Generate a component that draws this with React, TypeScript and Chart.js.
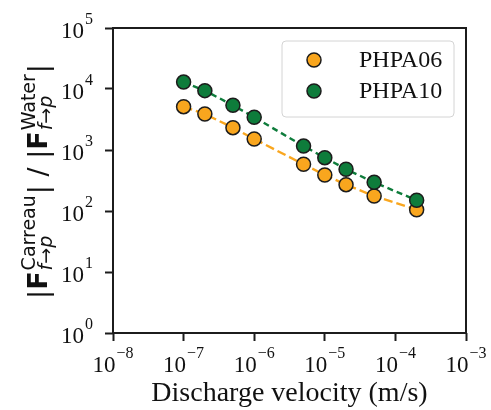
import React, { useEffect, useRef } from 'react';
import { Chart, registerables } from 'chart.js';

Chart.register(...registerables);

// ---- data ----
const velocities = [1e-7, 2e-7, 5e-7, 1e-6, 5e-6, 1e-5, 2e-5, 5e-5, 2e-4];
const phpa06 = [5130, 3890, 2320, 1515, 583, 389, 270, 176, 105];
const phpa10 = [13000, 9400, 5400, 3440, 1160, 748, 483, 295, 150];
const seriesLabels = ['PHPA06', 'PHPA10'];
const xTickValues = [1e-8, 1e-7, 1e-6, 1e-5, 1e-4, 1e-3];
const yTickValues = [1e0, 1e1, 1e2, 1e3, 1e4, 1e5];
const xTitle = 'Discharge velocity (m/s)';
const yTitleNum = 'Carreau';
const yTitleDen = 'Water';
const yTitleSub = ['f', '→', 'p'];

const ORANGE = '#F9A61E';
const GREEN = '#0E7C3B';
const EDGE = '#1c1c1c';
const SERIF = '"Liberation Serif", "Times New Roman", serif';
const SANS = '"DejaVu Sans", sans-serif';

// draws "10" with a raised exponent, as mathtext does
const drawPow = (
  ctx: CanvasRenderingContext2D,
  v: number,
  x: number,
  y: number,
  align: 'center' | 'right'
) => {
  const e = Math.round(Math.log10(v));
  const expStr = e < 0 ? '\u2212' + String(-e) : String(e);
  const fBase = `23px ${SERIF}`;
  const fExp = `16px ${SERIF}`;
  ctx.font = fBase;
  const wb = ctx.measureText('10').width;
  ctx.font = fExp;
  const we = ctx.measureText(expStr).width;
  const total = wb + 1 + we;
  const x0 = align === 'center' ? x - total / 2 : x - total;
  ctx.textAlign = 'left';
  ctx.textBaseline = 'alphabetic';
  ctx.font = fBase;
  ctx.fillText('10', x0, y);
  ctx.font = fExp;
  ctx.fillText(expStr, x0 + wb + 1, y - 14);
};

const tickLabelPlugin = {
  id: 'powTickLabels',
  afterDraw(chart: any) {
    const ctx = chart.ctx as CanvasRenderingContext2D;
    const { left, bottom } = chart.chartArea;
    const xs = chart.scales.x;
    const ys = chart.scales.y;
    ctx.save();
    ctx.fillStyle = '#111';
    xs.ticks.forEach((t: any) => {
      drawPow(ctx, t.value, xs.getPixelForValue(t.value), bottom + 39, 'center');
    });
    ys.ticks.forEach((t: any) => {
      drawPow(ctx, t.value, left - 20, ys.getPixelForValue(t.value) + 10, 'right');
    });
    ctx.restore();
  },
};

const framePlugin = {
  id: 'frameLegendTitle',
  afterDraw(chart: any) {
    const ctx = chart.ctx as CanvasRenderingContext2D;
    const { left, top, right, bottom } = chart.chartArea;
    ctx.save();
    // frame
    ctx.strokeStyle = EDGE;
    ctx.lineWidth = 2;
    ctx.strokeRect(left, top, right - left, bottom - top);

    // legend
    const bx = right - 184, by = top + 13, bw = 172, bh = 76, r = 4;
    ctx.beginPath();
    ctx.moveTo(bx + r, by);
    ctx.arcTo(bx + bw, by, bx + bw, by + bh, r);
    ctx.arcTo(bx + bw, by + bh, bx, by + bh, r);
    ctx.arcTo(bx, by + bh, bx, by, r);
    ctx.arcTo(bx, by, bx + bw, by, r);
    ctx.closePath();
    ctx.fillStyle = 'rgba(255,255,255,0.8)';
    ctx.fill();
    ctx.strokeStyle = '#d4d4d4';
    ctx.lineWidth = 1;
    ctx.stroke();
    chart.data.datasets.forEach((ds: any, i: number) => {
      const cy = by + 19 + i * 31;
      ctx.beginPath();
      ctx.arc(bx + 32, cy, 7, 0, Math.PI * 2);
      ctx.fillStyle = ds.pointBackgroundColor;
      ctx.fill();
      ctx.lineWidth = 1.5;
      ctx.strokeStyle = EDGE;
      ctx.stroke();
      ctx.fillStyle = '#111';
      ctx.font = `24px ${SERIF}`;
      ctx.textBaseline = 'middle';
      ctx.textAlign = 'left';
      ctx.fillText(ds.label, bx + 77, cy + 1);
    });

    // y title (rotated, with super/subscripts)
    const main = 27, scr = 19;
    const fMain = `${main}px ${SANS}`;
    const fBold = `bold ${main}px ${SANS}`;
    const fScr = `${scr}px ${SANS}`;
    const fScrIt = `italic ${scr}px ${SANS}`;
    const fSlash = `${main}px ${SANS}`;
    type Seg = { kind: 'txt'; t: string; f: string } | { kind: 'stack'; sup: string };
    const segs: Seg[] = [
      { kind: 'txt', t: '|', f: fMain },
      { kind: 'txt', t: 'F', f: fBold },
      { kind: 'stack', sup: yTitleNum },
      { kind: 'txt', t: '|', f: fMain },
      { kind: 'txt', t: ' / ', f: fSlash },
      { kind: 'txt', t: '|', f: fMain },
      { kind: 'txt', t: 'F', f: fBold },
      { kind: 'stack', sup: yTitleDen },
      { kind: 'txt', t: '|', f: fMain },
    ];
    const subFonts = [fScrIt, fScr, fScrIt];
    const subWidth = () =>
      yTitleSub.reduce((w, s, i) => {
        ctx.font = subFonts[i];
        return w + ctx.measureText(s).width;
      }, 0);
    const widthOf = (s: Seg) => {
      if (s.kind === 'txt') {
        ctx.font = s.f;
        return ctx.measureText(s.t).width;
      }
      ctx.font = fScr;
      return Math.max(ctx.measureText(s.sup).width, subWidth()) + 2;
    };
    const total = segs.reduce((w, s) => w + widthOf(s), 0);
    const baseX = 47;
    const centerY = (top + bottom) / 2 + 1;
    ctx.translate(baseX, centerY);
    ctx.rotate(-Math.PI / 2);
    ctx.fillStyle = '#111';
    ctx.textBaseline = 'alphabetic';
    ctx.textAlign = 'left';
    let x = -total / 2;
    segs.forEach((s) => {
      const w = widthOf(s);
      if (s.kind === 'txt') {
        ctx.font = s.f;
        ctx.fillText(s.t, x, 0);
      } else {
        ctx.font = fScr;
        ctx.fillText(s.sup, x + 1, -12);
        let sx = x + 1;
        yTitleSub.forEach((p, i) => {
          ctx.font = subFonts[i];
          ctx.fillText(p, sx, 5);
          sx += ctx.measureText(p).width;
        });
      }
      x += w;
    });
    ctx.restore();
  },
};

export default function App() {
  const ref = useRef<HTMLCanvasElement | null>(null);
  useEffect(() => {
    if (!ref.current) return;
    const mk = (vals: number[]) => velocities.map((v, i) => ({ x: v, y: vals[i] }));
    const gridOpts = {
      display: true,
      drawOnChartArea: false,
      drawTicks: true,
      tickLength: 8,
      tickWidth: 2,
      color: EDGE,
    };
    const chart = new Chart(ref.current, {
      type: 'scatter',
      data: {
        datasets: [
          {
            label: seriesLabels[0],
            data: mk(phpa06),
            showLine: true,
            borderColor: ORANGE,
            borderWidth: 2.4,
            borderDash: [9, 4],
            pointBackgroundColor: ORANGE,
            pointBorderColor: EDGE,
            pointBorderWidth: 1.5,
            pointRadius: 7,
            order: 1,
          } as any,
          {
            label: seriesLabels[1],
            data: mk(phpa10),
            showLine: true,
            borderColor: GREEN,
            borderWidth: 2.4,
            borderDash: [6, 4],
            pointBackgroundColor: GREEN,
            pointBorderColor: EDGE,
            pointBorderWidth: 1.5,
            pointRadius: 7,
            order: 0,
          } as any,
        ],
      },
      options: {
        responsive: false,
        animation: false,
        events: [],
        layout: { padding: { top: 28, right: 25, left: 0, bottom: 0 } },
        plugins: { legend: { display: false }, tooltip: { enabled: false } },
        scales: {
          x: {
            type: 'logarithmic',
            min: 1e-8,
            max: 1e-3,
            afterBuildTicks: (s: any) => {
              s.ticks = xTickValues.map((v) => ({ value: v }));
            },
            afterFit: (s: any) => {
              s.height = 77;
            },
            grid: gridOpts,
            border: { display: false },
            ticks: { display: false, autoSkip: false, maxRotation: 0 },
            title: {
              display: true,
              text: xTitle,
              color: '#111',
              font: { family: SERIF, size: 28, lineHeight: 1.2 },
              padding: { top: 0, bottom: 0 },
            },
          },
          y: {
            type: 'logarithmic',
            min: 1,
            max: 1e5,
            afterBuildTicks: (s: any) => {
              s.ticks = yTickValues.map((v) => ({ value: v }));
            },
            afterFit: (s: any) => {
              s.width = 113;
            },
            grid: gridOpts,
            border: { display: false },
            ticks: { display: false, autoSkip: false },
          },
        },
      },
      plugins: [tickLabelPlugin, framePlugin],
    });
    return () => chart.destroy();
  }, []);
  return (
    <div style={{ position: 'absolute', left: 0, top: 0, width: 491, height: 410, background: '#fff' }}>
      <canvas ref={ref} width={491} height={410} style={{ display: 'block' }} />
    </div>
  );
}
